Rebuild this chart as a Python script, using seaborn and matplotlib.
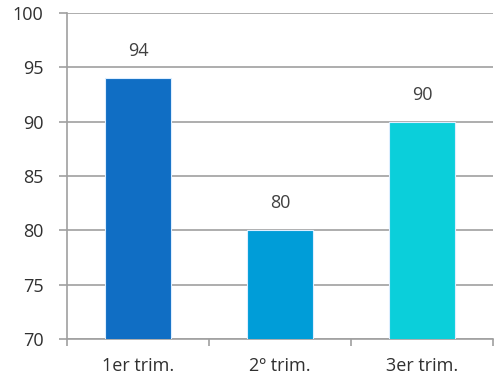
import matplotlib
matplotlib.use("Agg")
import matplotlib.pyplot as plt
import seaborn as sns
import pandas as pd

trimestres = ["1er trim.", "2º trim.", "3er trim."]
valores = [94, 80, 90]
colores = ["#106EC4", "#009DD8", "#0BCFDA"]

sns.set_style("white")
plt.rcParams['font.family'] = ['Open Sans', 'DejaVu Sans']

df = pd.DataFrame({"trim": trimestres, "valor": valores})

fig = plt.figure(figsize=(4.97, 3.85), dpi=100)
ax = fig.add_axes([0.135, 0.12, 0.857, 0.846])

sns.barplot(data=df, x="trim", y="valor", hue="trim", palette=colores,
            saturation=1, width=0.47, legend=False, ax=ax,
            edgecolor="#DDEEFF", linewidth=0.8, zorder=3)

ax.set_ylim(70, 100)
ax.set_xlim(-0.5, 2.5)
ax.set_yticks(range(70, 101, 5))
ax.yaxis.grid(True, color="#A0A0A0", linewidth=1.2, zorder=0)
ax.set_axisbelow(True)

for c in ax.containers:
    ax.bar_label(c, padding=13, fontsize=13, color="#404040")

ax.set_xlabel("")
ax.set_ylabel("")
ax.set_xticks([-0.5, 0.5, 1.5, 2.5], minor=True)
ax.tick_params(axis="x", which="major", length=0, pad=13, labelsize=13, labelcolor="#303030")
ax.tick_params(axis="x", which="minor", length=5, color="#A0A0A0", width=1.2, direction="out")
ax.tick_params(axis="y", length=6, color="#A0A0A0", width=1.2, pad=11, labelsize=13,
               labelcolor="#303030", direction="out")
ax.tick_params(axis="both", which="both", bottom=True, left=True)
ax.tick_params(axis="x", which="major", bottom=False)

sns.despine(ax=ax, top=True, right=True)
for s in ["left", "bottom"]:
    ax.spines[s].set_color("#A0A0A0")
    ax.spines[s].set_linewidth(1.2)

fig.savefig("out.png", dpi=100)
